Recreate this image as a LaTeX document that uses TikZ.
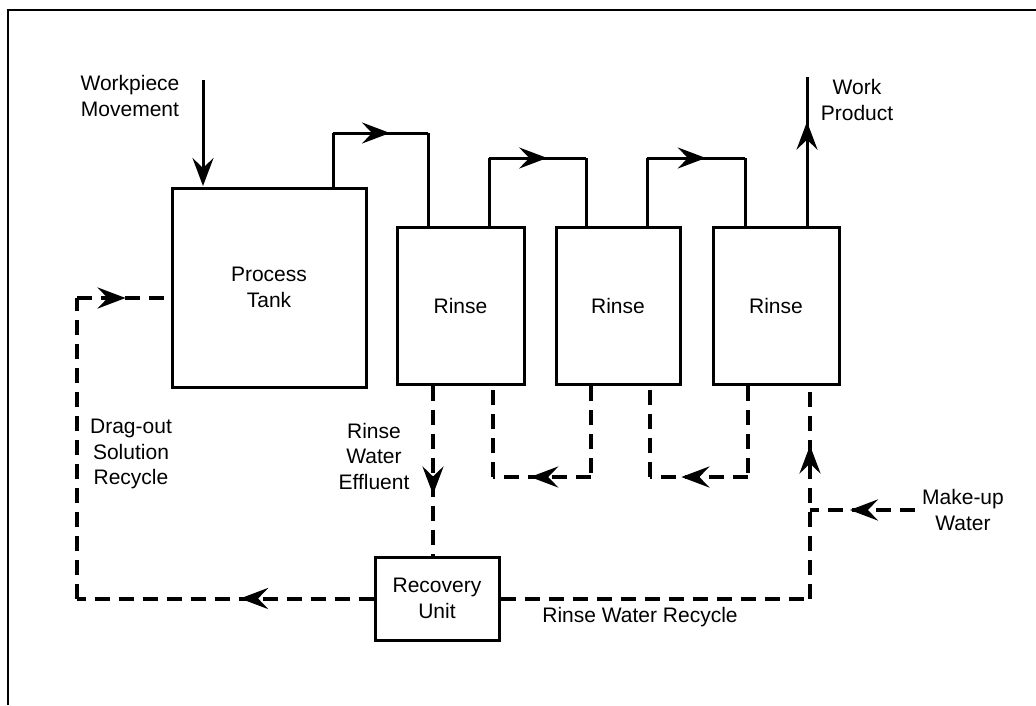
\documentclass[tikz,border=0pt]{standalone}
\usepackage{fontspec}
\setmainfont{Liberation Sans}
\usetikzlibrary{arrows.meta,decorations.markings}
\tikzset{
  tank/.style={draw,line width=3pt,inner sep=0pt,align=center},
  lbl/.style={align=center,inner sep=0pt},
  pipe/.style={line width=3pt},
  dpipe/.style={line width=4pt,dash pattern=on 15pt off 9pt},
  midarr/.style={postaction={decorate},decoration={markings,mark=at position #1 with {\arrow{Stealth[length=28pt,width=21pt,inset=10pt]}}}}
}
\begin{document}
\begin{tikzpicture}[x=1pt,y=-1pt,font=\fontsize{21}{25.5}\selectfont]
\useasboundingbox (0,0) rectangle (1036,705);
\draw[line width=2.5pt] (8,705) -- (8,10) -- (1036,10);

% tanks
\node[tank,minimum width=194pt,minimum height=199pt] (PT) at (269,287.5) {Process\\Tank};
\node[tank,minimum width=127pt,minimum height=157pt] (R1) at (460.5,306) {Rinse};
\node[tank,minimum width=124pt,minimum height=157pt] (R2) at (618,306) {Rinse};
\node[tank,minimum width=126pt,minimum height=157pt] (R3) at (776,306) {Rinse};
\node[tank,minimum width=124pt,minimum height=83pt] (RU) at (437,598.5) {Recovery\\Unit};

% labels
\node[lbl] (lwp) at (130,96) {Workpiece\\Movement};
\node[lbl] (lwk) at (857,100) {Work\\Product};
\node[lbl] (ldr) at (131,454) {Drag-out\\Solution\\Recycle};
\node[lbl] (lef) at (374,456) {Rinse\\Water\\Effluent};
\node[lbl] (lrr) at (640,617) {Rinse Water Recycle};
\node[lbl] (lmu) at (963,510) {Make-up\\Water};

% ports
\coordinate (wp) at (203,80);
\coordinate (pt1) at ([xshift=64pt]PT.north);
\coordinate (r1a) at ([xshift=-32.5pt]R1.north);
\coordinate (r1b) at ([xshift=28.5pt]R1.north);
\coordinate (r2a) at ([xshift=-32pt]R2.north);
\coordinate (r2b) at ([xshift=29pt]R2.north);
\coordinate (r3a) at ([xshift=-31pt]R3.north);
\coordinate (r3b) at ([xshift=31pt]R3.north);
\coordinate (wk) at (807,77);
\coordinate (s1a) at ([xshift=-27.5pt]R1.south);
\coordinate (s1b) at ([xshift=32.5pt]R1.south);
\coordinate (s2a) at ([xshift=-27pt]R2.south);
\coordinate (s2b) at ([xshift=32pt]R2.south);
\coordinate (s3a) at ([xshift=-28pt]R3.south);
\coordinate (s3b) at ([xshift=34pt]R3.south);
\coordinate (dl) at (77,598.5);
\coordinate (dt) at (77,298);
\coordinate (mu) at (915,510);

% solid flows
\draw[pipe,-{Stealth[length=28pt,width=21pt,inset=10pt]}] (wp) -- (203,186);
\draw[pipe] (pt1) -- (pt1 |- 0,133);
\draw[pipe,midarr=0.6] (pt1 |- 0,133) -- (r1a |- 0,133);
\draw[pipe] (r1a |- 0,133) -- (r1a);
\draw[pipe] (r1b) -- (r1b |- 0,158);
\draw[pipe,midarr=0.6] (r1b |- 0,158) -- (r2a |- 0,158);
\draw[pipe] (r2a |- 0,158) -- (r2a);
\draw[pipe] (r2b) -- (r2b |- 0,158);
\draw[pipe,midarr=0.6] (r2b |- 0,158) -- (r3a |- 0,158);
\draw[pipe] (r3a |- 0,158) -- (r3a);
\draw[pipe,midarr=0.70] (r3b) -- (wk);

% dashed flows
\draw[dpipe,midarr=0.64] (s1a) -- (s1a |- RU.north);
\draw[dpipe] (s2a) -- (s2a |- 0,477);
\draw[dpipe,midarr=0.62] (s2a |- 0,477) -- (s1b |- 0,477);
\draw[dpipe] (s1b |- 0,477) -- (s1b);
\draw[dpipe] (s3a) -- (s3a |- 0,477);
\draw[dpipe,midarr=0.68] (s3a |- 0,477) -- (s2b |- 0,477);
\draw[dpipe] (s2b |- 0,477) -- (s2b);
\draw[dpipe] (RU.east) -- (RU.east -| s3b);
\draw[dpipe,midarr=0.72] (RU.east -| s3b) -- (s3b);
\draw[dpipe,midarr=0.62] (mu) -- (mu -| s3b);
\draw[dpipe,midarr=0.45] (RU.west) -- (dl);
\draw[dpipe] (dl) -- (dt);
\draw[dpipe,midarr=0.52] (dt) -- (dt -| PT.west);
\end{tikzpicture}
\end{document}
